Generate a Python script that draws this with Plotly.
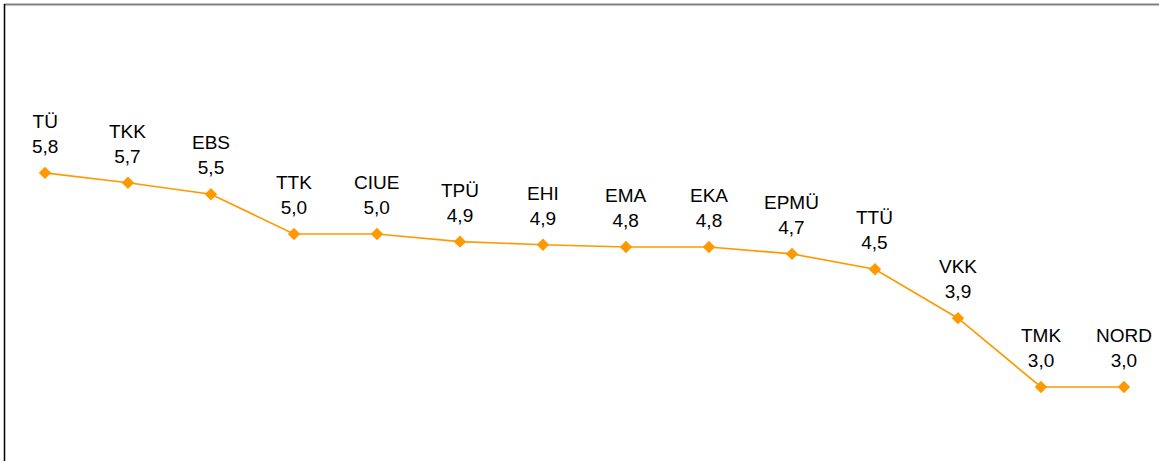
import plotly.graph_objects as go

names = ["TÜ", "TKK", "EBS", "TTK", "CIUE", "TPÜ", "EHI", "EMA", "EKA", "EPMÜ", "TTÜ", "VKK", "TMK", "NORD"]
values = [5.80, 5.67, 5.52, 5.00, 5.00, 4.90, 4.86, 4.83, 4.83, 4.74, 4.54, 3.90, 3.00, 3.00]

labels = [f"{n}<br>{v:.1f}".replace(".", ",") for n, v in zip(names, values)]
xs = list(range(len(names)))

fig = go.Figure()
fig.add_trace(go.Scatter(
    x=xs, y=values, mode="lines+markers",
    line=dict(color="#FF9900", width=1.7),
    marker=dict(symbol="diamond", size=9.5, color="#FF9900"),
    hoverinfo="skip", cliponaxis=False,
))

for x, y, t in zip(xs, values, labels):
    fig.add_annotation(x=x, y=y, text=t, showarrow=False, xanchor="center", yanchor="bottom",
                       yshift=14, font=dict(family="Liberation Sans, Arial", size=19, color="#000000"))

fig.update_layout(
    width=1159, height=461,
    margin=dict(l=0, r=0, t=0, b=0),
    paper_bgcolor="white", plot_bgcolor="white",
    showlegend=False,
    xaxis=dict(range=[-0.542, 13.422], visible=False, fixedrange=True),
    yaxis=dict(range=[2.033, 8.059], visible=False, fixedrange=True),
    shapes=[
        dict(type="line", xref="paper", yref="paper", x0=4/1159, x1=1, y0=1-4.5/461, y1=1-4.5/461,
             line=dict(color="#808080", width=2)),
        dict(type="line", xref="paper", yref="paper", x0=4.5/1159, x1=4.5/1159, y0=0, y1=1-4/461,
             line=dict(color="#000000", width=1.5)),
    ],
)

fig.write_html("out.html", config={"displayModeBar": False},
               post_script="document.body.style.margin='0';document.body.style.overflow='hidden';")
